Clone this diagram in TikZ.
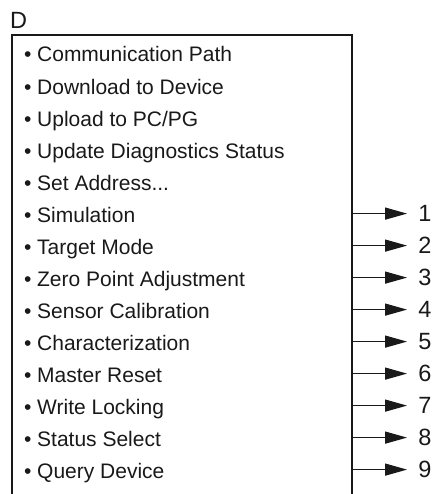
\documentclass[tikz,border=0pt]{standalone}
\usepackage{fontspec}
\setmainfont{Liberation Sans}
\usetikzlibrary{arrows.meta}
\tikzset{
  frame/.style={line width=1.4pt, black!90},
  item/.style={anchor=base west, inner sep=0pt, font=\fontsize{21}{25}\selectfont, text=black!90},
  num/.style={anchor=center, inner sep=0pt, font=\fontsize{23.5}{28}\selectfont, text=black!90},
  title/.style={anchor=base west, inner sep=0pt, font=\fontsize{23.5}{28}\selectfont, text=black!90},
  arr/.style={line width=1.3pt, black!90, -{Triangle[length=22pt,width=12pt]}, shorten >=11pt}
}
\begin{document}
\begin{tikzpicture}[x=1pt,y=-1pt]
\useasboundingbox (0,0) rectangle (433,494);
\node[title] (D) at (9.8,28.3) {D};
\coordinate (BL) at (12,494);
\coordinate (TL) at (12,35);
\coordinate (TR) at (352,35);
\coordinate (BR) at (352,494);
\draw[frame] (BL) -- (TL) -- (TR) -- (BR);
\foreach \t [count=\i from 0] in {Communication Path, Download to Device, Upload to PC/PG, Update Diagnostics Status, {Set Address{.}{.}{.}}, Simulation, Target Mode, Zero Point Adjustment, Sensor Calibration, Characterization, Master Reset, Write Locking, Status Select, Query Device}{
  \node[item] (i\i) at (23.8, 62+32.05*\i) {• \t};
}
\foreach \n in {1,2,3,4,5,6,7,8,9}{
  \pgfmathsetmacro{\yy}{213.6+32*(\n-1)}
  \node[num] (n\n) at (424.8,\yy) {\n};
  \draw[arr] (n\n.west -| TR) -- (n\n.west);
}
\end{tikzpicture}
\end{document}
